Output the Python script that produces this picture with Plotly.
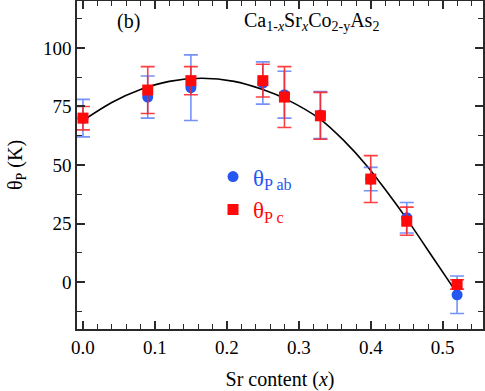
import plotly.graph_objects as go

# Sr content
x_sr = [0.0, 0.09, 0.15, 0.25, 0.28, 0.33, 0.40, 0.45, 0.52]

# theta_P ab (blue circles)
theta_ab = [70, 79, 83, 85, 80, 71.3, 44, 27.5, -5.4]
theta_ab_err = [8, 9, 14, 9, 10, 10, 5, 6.5, 8]

# theta_P c (red squares)
theta_c = [70, 82, 86, 86, 79, 71, 44, 26, -1]
theta_c_err = [5, 10, 6, 7, 13, 10, 10, 6, 2]

# fit curve
fit_x = [0.0, 0.04, 0.08, 0.12, 0.165, 0.21, 0.25, 0.283, 0.33, 0.362, 0.395, 0.422, 0.45, 0.487, 0.52]
fit_y = [69, 76.7, 82.2, 85.7, 87, 85.7, 82.2, 78.0, 69.5, 60.6, 49.5, 38.8, 27, 10.2, -4.8]

blue = '#2456f0'
red = '#ff0a0a'
axcol = '#2a2a2a'
font = 'Liberation Serif'

fig = go.Figure()
fig.add_trace(go.Scatter(x=fit_x, y=fit_y,
                         mode='lines',
                         showlegend=False,
                         line=dict(color='black', width=1.6, shape='spline', smoothing=0.8)))
fig.add_trace(go.Scatter(x=x_sr, y=theta_ab,
                         mode='markers',
                         name="<span style='color:%s'>θ<sub>P ab</sub></span>" % blue,
                         marker=dict(symbol='circle', size=11, color=blue),
                         error_y=dict(type='data', array=theta_ab_err, color='rgba(70,110,245,0.75)',
                                      thickness=1.6, width=7)))
fig.add_trace(go.Scatter(x=x_sr, y=theta_c,
                         mode='markers',
                         name="<span style='color:%s'>θ<sub>P c</sub></span>" % red,
                         marker=dict(symbol='square', size=11, color=red),
                         error_y=dict(type='data', array=theta_c_err, color='rgba(255,30,30,0.85)',
                                      thickness=1.6, width=7)))

fig.update_layout(width=485, height=391,
                  margin=dict(l=77, r=2, t=1, b=62),
                  plot_bgcolor='white',
                  paper_bgcolor='white',
                  font=dict(family=font, size=19, color='black'),
                  showlegend=True,
                  legend=dict(x=0.335, y=0.53, xanchor='left', yanchor='top',
                              bgcolor='rgba(0,0,0,0)',
                              font=dict(family=font, size=23),
                              tracegroupgap=0,
                              itemwidth=30),
                  annotations=[
                      dict(text='(b)', xref='paper', yref='paper', x=0.093, y=0.936,
                           xanchor='left', yanchor='middle', showarrow=False,
                           font=dict(family=font, size=20)),
                      dict(text='Ca<sub>1-<i>x</i></sub>Sr<sub><i>x</i></sub>Co<sub>2-y</sub>As<sub>2</sub>',
                           xref='paper', yref='paper', x=0.407, y=0.936,
                           xanchor='left', yanchor='middle', showarrow=False,
                           font=dict(family=font, size=20)),
                  ])

fig.update_xaxes(range=[-0.0083, 0.556], automargin=False,
                 tick0=0, dtick=0.1, tickformat='.1f',
                 tickfont=dict(family=font, size=19),
                 ticks='inside', ticklen=8, tickwidth=1.5, tickcolor=axcol,
                 minor=dict(dtick=0.02, ticks='inside', ticklen=5, tickwidth=1.2, tickcolor=axcol),
                 showline=True, linecolor=axcol, linewidth=1.5, mirror='ticks',
                 showgrid=False, zeroline=False,
                 title=dict(text='Sr content (<i>x</i>)', font=dict(family=font, size=20)))
fig.update_yaxes(range=[-20, 120], automargin=False,
                 tick0=0, dtick=25,
                 tickfont=dict(family=font, size=19),
                 ticks='inside', ticklen=8, tickwidth=1.5, tickcolor=axcol,
                 minor=dict(dtick=12.5, ticks='inside', ticklen=5, tickwidth=1.2, tickcolor=axcol),
                 showline=True, linecolor=axcol, linewidth=1.5, mirror='ticks',
                 showgrid=False, zeroline=False,
                 title=dict(text='θ<sub>P</sub> (K)', font=dict(family=font, size=20)))

# page body has a default margin; drop it so the figure sits at the window corner
fig.write_html("out.html", config={'displayModeBar': False},
               post_script="document.body.style.margin='0';")
